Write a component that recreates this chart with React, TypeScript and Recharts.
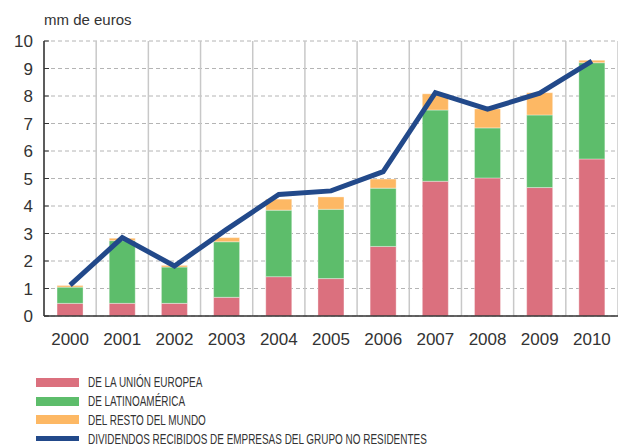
import { ComposedChart, Bar, Line, XAxis, YAxis, CartesianGrid } from 'recharts';

const years = ['2000', '2001', '2002', '2003', '2004', '2005', '2006', '2007', '2008', '2009', '2010'];
const unionEuropea = [0.46, 0.46, 0.46, 0.68, 1.43, 1.36, 2.53, 4.9, 5.02, 4.67, 5.71];
const latinoamerica = [0.59, 2.28, 1.32, 2.02, 2.42, 2.52, 2.12, 2.59, 1.82, 2.64, 3.5];
const restoMundo = [0.06, 0.09, 0.06, 0.15, 0.4, 0.45, 0.33, 0.59, 0.69, 0.81, 0.09];
const dividendos = [1.12, 2.85, 1.82, 3.15, 4.42, 4.55, 5.25, 8.12, 7.52, 8.1, 9.27];
const yTicks = [0, 1, 2, 3, 4, 5, 6, 7, 8, 9, 10];

const RED = '#db707e';
const GREEN = '#5dbd6b';
const ORANGE = '#fdb864';
const BLUE = '#22498a';

const legendItems = [
  { label: 'DE LA UNIÓN EUROPEA', color: RED, thick: 9 },
  { label: 'DE LATINOAMÉRICA', color: GREEN, thick: 9 },
  { label: 'DEL RESTO DEL MUNDO', color: ORANGE, thick: 9 },
  { label: 'DIVIDENDOS RECIBIDOS DE EMPRESAS DEL GRUPO NO RESIDENTES', color: BLUE, thick: 5 },
];

const data = years.map((year, i) => ({
  year,
  ue: unionEuropea[i],
  latam: latinoamerica[i],
  resto: restoMundo[i],
  total: dividendos[i],
}));

const tickStyle = { fontSize: 17, fill: '#333', fontFamily: '"Liberation Sans", Arial, sans-serif' };

export default function App() {
  return (
    <div style={{ position: 'absolute', left: 0, top: 0, width: 618, height: 445, background: '#fff', overflow: 'hidden' }}>
      <div
        style={{
          position: 'absolute',
          left: 44,
          top: 11,
          fontSize: 15,
          color: '#333',
          fontFamily: '"Liberation Sans", Arial, sans-serif',
        }}
      >
        mm de euros
      </div>
      <ComposedChart
        width={618}
        height={445}
        data={data}
        margin={{ top: 41, right: 0, left: 0, bottom: 99 }}
        barCategoryGap="25%"
      >
        <CartesianGrid vertical={false} stroke="#b4b4b4" strokeDasharray="4 3" />
        <CartesianGrid
          horizontal={false}
          stroke="#c8c8c8"
          strokeWidth={1.5}
          verticalCoordinatesGenerator={({ offset }: any) =>
            Array.from({ length: years.length + 1 }, (_, i) => offset.left + (i * offset.width) / years.length)
          }
        />
        <XAxis
          dataKey="year"
          tick={tickStyle}
          tickLine={false}
          tickMargin={11}
          axisLine={{ stroke: '#333', strokeWidth: 1.5 }}
          interval={0}
          height={30}
        />
        <YAxis
          domain={[0, 10]}
          ticks={yTicks}
          width={44}
          tick={tickStyle}
          tickSize={-5}
          tickMargin={16}
          tickLine={{ stroke: '#333' }}
          axisLine={{ stroke: '#333', strokeWidth: 1.5 }}
          interval={0}
        />
        <Bar dataKey="ue" stackId="a" fill={RED} stroke="#fff" strokeOpacity={0.35} isAnimationActive={false} />
        <Bar dataKey="latam" stackId="a" fill={GREEN} stroke="#fff" strokeOpacity={0.35} isAnimationActive={false} />
        <Bar dataKey="resto" stackId="a" fill={ORANGE} stroke="#fff" strokeOpacity={0.35} isAnimationActive={false} />
        <Line
          dataKey="total"
          type="linear"
          stroke={BLUE}
          strokeWidth={5}
          strokeLinejoin="miter"
          dot={false}
          activeDot={false}
          isAnimationActive={false}
        />
      </ComposedChart>
      <div style={{ position: 'absolute', left: 36, top: 373 }}>
        {legendItems.map((item) => (
          <div
            key={item.label}
            style={{
              display: 'flex',
              alignItems: 'center',
              height: 18.8,
              fontFamily: '"Liberation Sans", Arial, sans-serif',
              fontSize: 14,
              color: '#333',
              whiteSpace: 'nowrap',
            }}
          >
            <span style={{ display: 'inline-block', width: 43, height: item.thick, background: item.color, marginRight: 9 }} />
            <span style={{ display: 'inline-block', transform: 'scaleX(0.71)', transformOrigin: 'left center' }}>
              {item.label}
            </span>
          </div>
        ))}
      </div>
    </div>
  );
}
